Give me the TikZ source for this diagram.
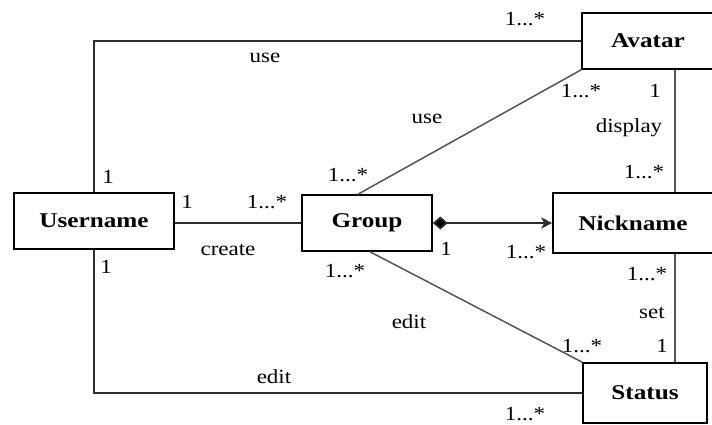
\documentclass[tikz,border=0pt]{standalone}
\usepackage{fontspec}
\setmainfont{Liberation Serif}
\newfontfamily\lblfont[FakeStretch=1.15]{Liberation Serif}
\newfontfamily\clsfont[FakeStretch=1.2]{Liberation Serif}
\usetikzlibrary{arrows.meta,calc}
\definecolor{linegray}{RGB}{45,45,45}
\definecolor{diaggray}{RGB}{85,85,80}

\begin{document}
\begin{tikzpicture}[x=1pt,y=-1pt,
  cls/.style={draw=black, line width=1.6pt, inner sep=0pt,
    font=\clsfont\bfseries\fontsize{21}{24}\selectfont},
  lbl/.style={inner sep=0pt, anchor=base,
    font=\lblfont\fontsize{20}{24}\selectfont},
  conn/.style={draw=linegray, line width=1.6pt},
  diag/.style={draw=diaggray, line width=1.5pt}]
\clip (0,0) rectangle (712,425);
\fill[white] (0,0) rectangle (712,425);

% classes
\node[cls, minimum width=160pt, minimum height=56pt] (Username) at (94,221) {Username};
\node[cls, minimum width=130pt, minimum height=56pt] (Group) at (367,223) {Group};
\node[cls, minimum width=132pt, minimum height=56pt] (Avatar) at (648,41) {Avatar};
\node[cls, minimum width=160pt, minimum height=60pt] (Nickname) at (633,223) {Nickname};
\node[cls, minimum width=124pt, minimum height=60pt] (Status) at (645,393) {Status};

% associations
\coordinate (vx) at (675,0);
\draw[conn] (Username.north) |- (Avatar.west);
\draw[conn] (Username.south) |- (Status.west);
\draw[conn] (Group.west) -- (Group.west -| Username.east);
\draw[conn, {Diamond[length=15pt,width=13pt,fill=black]}-{Stealth[length=11pt,width=11pt,inset=3pt]}]
  (Group.east) -- (Nickname.west);
\draw[diag] (Avatar.south west) -- ([xshift=-9pt]Group.north);
\draw[diag] ([xshift=3pt]Group.south) -- (Status.north west);
\draw[diag] (vx |- Avatar.south) -- (vx |- Nickname.north);
\draw[diag] (vx |- Nickname.south) -- (vx |- Status.north);

% association names
\node[lbl] (nUseTop) at (265,63) {use};
\node[lbl] (nUseMid) at (427,124) {use};
\node[lbl] (nDisplay) at (629,132) {display};
\node[lbl] (nCreate) at (228,255) {create};
\node[lbl] (nSet) at (652,318) {set};
\node[lbl] (nEditMid) at (409,328) {edit};
\node[lbl] (nEditBot) at (274,383) {edit};

% multiplicities
\node[lbl] (m1) at (525,26) {1...*};
\node[lbl] (m2) at (108,183) {1};
\node[lbl] (m3) at (187,208) {1};
\node[lbl] (m4) at (267,208) {1...*};
\node[lbl] (m5) at (348,182) {1...*};
\node[lbl] (m6) at (581,98) {1...*};
\node[lbl] (m7) at (655,98) {1};
\node[lbl] (m8) at (644,178) {1...*};
\node[lbl] (m9) at (106,273) {1};
\node[lbl] (m10) at (345,277) {1...*};
\node[lbl] (m11) at (446,255) {1};
\node[lbl] (m12) at (526,258) {1...*};
\node[lbl] (m13) at (647,280) {1...*};
\node[lbl] (m14) at (582,352) {1...*};
\node[lbl] (m15) at (662,352) {1};
\node[lbl] (m16) at (525,420) {1...*};
\end{tikzpicture}
\end{document}
